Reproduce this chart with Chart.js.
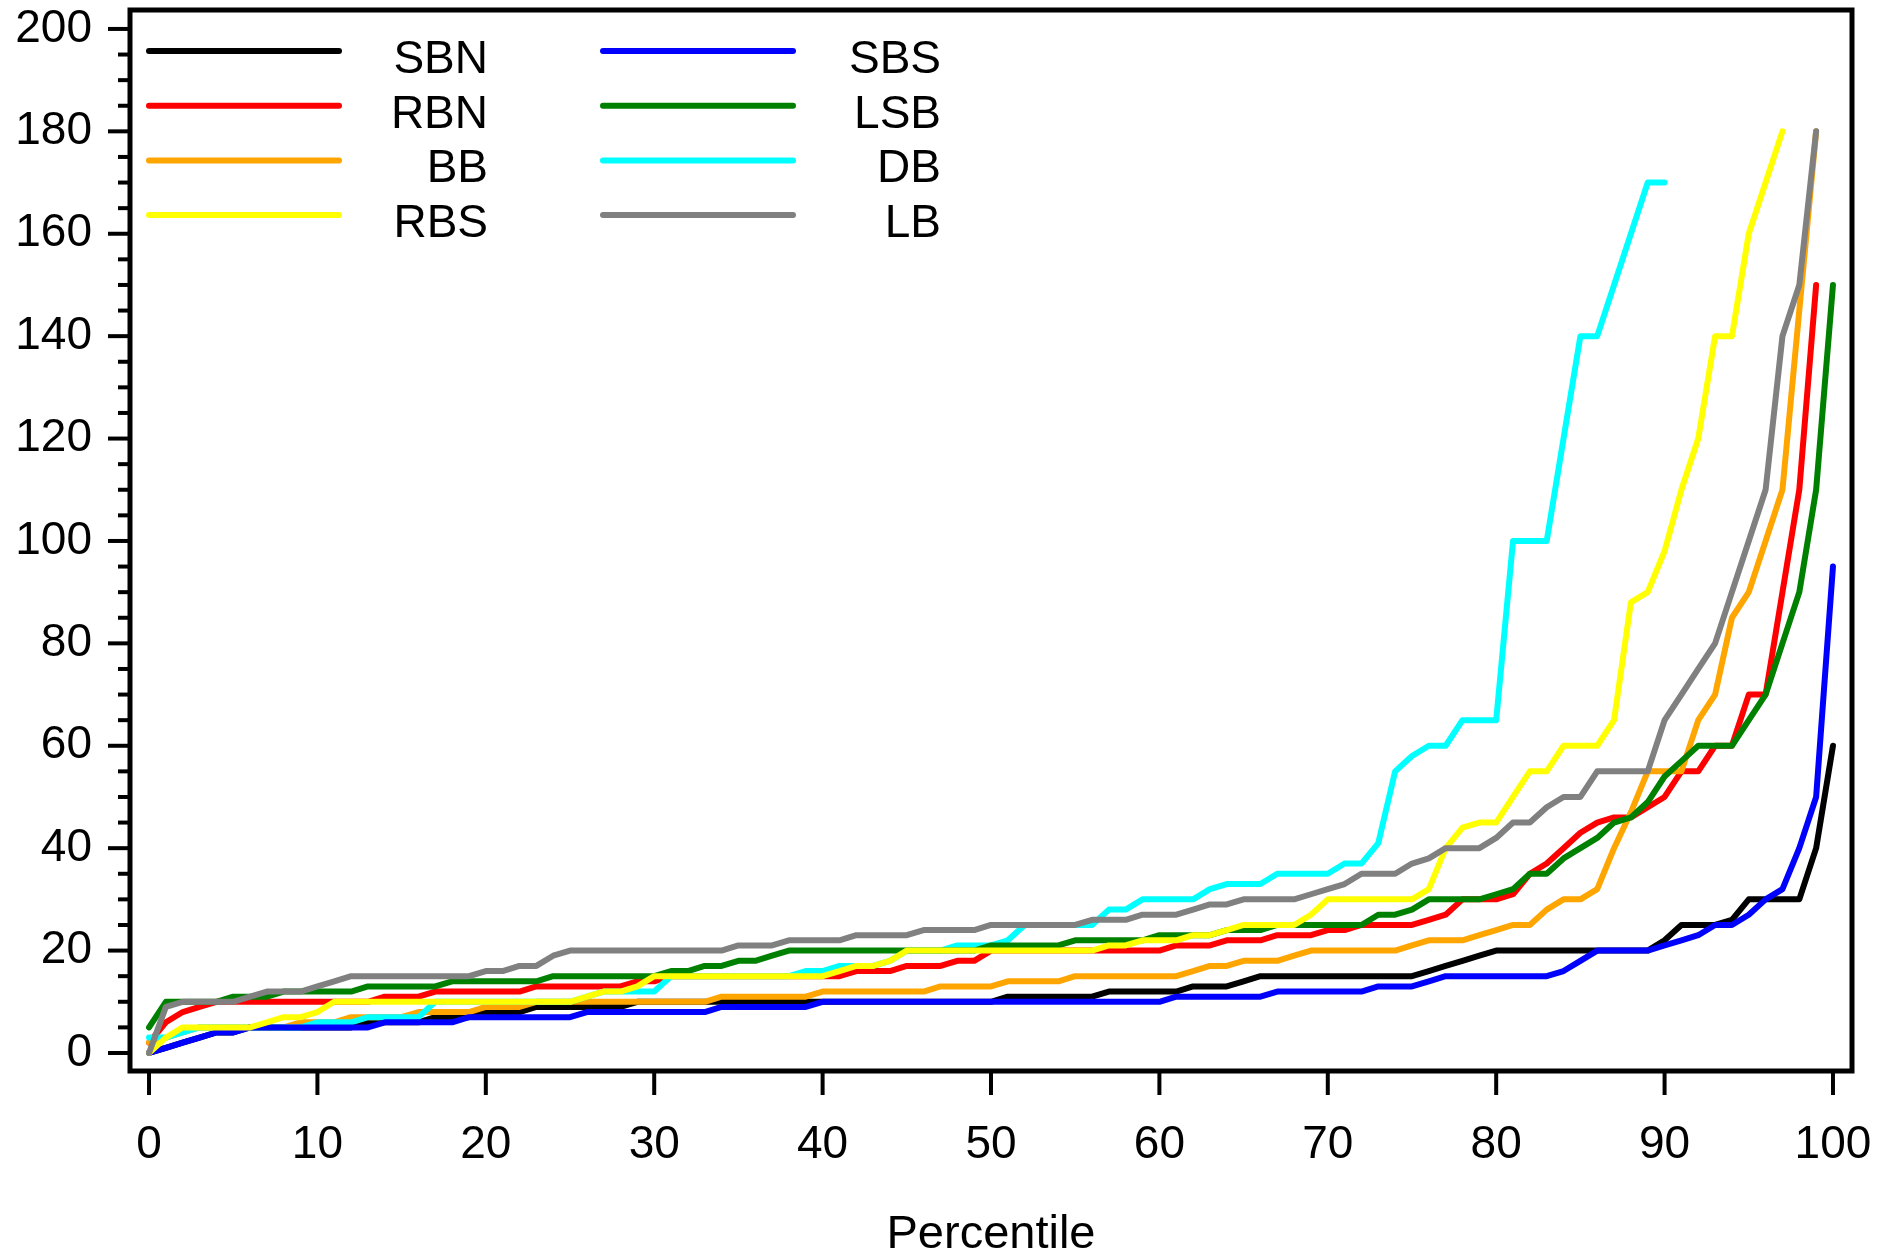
<!DOCTYPE html>
<html>
<head>
<meta charset="utf-8">
<title>Percentile</title>
<script src="https://cdn.jsdelivr.net/npm/chart.js@4"></script>
<style>
  html, body { margin: 0; padding: 0; background: #fff; }
  #wrap { width: 1898px; height: 1256px; position: relative; }
</style>
</head>
<body>
<div id="wrap"><canvas id="pctChart"></canvas></div>
<script>
// x positions: one point per percentile
const percentiles = Array.from({ length: 101 }, (_, i) => i);

const SBN = [0,1,2,3,4,4,5,5,5,5,
  5,5,5,6,6,6,6,7,7,7,
  8,8,8,9,9,9,9,9,9,10,
  10,10,10,10,10,10,10,10,10,10,
  10,10,10,10,10,10,10,10,10,10,
  10,11,11,11,11,11,11,12,12,12,
  12,12,13,13,13,14,15,15,15,15,
  15,15,15,15,15,15,16,17,18,19,
  20,20,20,20,20,20,20,20,20,20,
  22,25,25,25,26,30,30,30,30,40,
  60];

const RBN = [2,6,8,9,10,10,10,10,10,10,
  10,10,10,10,11,11,11,12,12,12,
  12,12,12,13,13,13,13,13,13,14,
  14,15,15,15,15,15,15,15,15,15,
  15,15,16,16,16,17,17,17,18,18,
  20,20,20,20,20,20,20,20,20,20,
  20,21,21,21,22,22,22,23,23,23,
  24,24,25,25,25,25,26,27,30,30,
  30,31,35,37,40,43,45,46,46,48,
  50,55,55,60,60,70,70,90,110,150,
  null];

const BB = [2,3,4,5,5,5,5,5,5,6,
  6,6,7,7,7,7,8,8,8,8,
  9,9,9,10,10,10,10,10,10,10,
  10,10,10,10,11,11,11,11,11,11,
  12,12,12,12,12,12,12,13,13,13,
  13,14,14,14,14,15,15,15,15,15,
  15,15,16,17,17,18,18,18,19,20,
  20,20,20,20,20,21,22,22,22,23,
  24,25,25,28,30,30,32,40,47,55,
  55,55,65,70,85,90,100,110,145,180,
  null];

const RBS = [0,3,5,5,5,5,5,6,7,7,
  8,10,10,10,10,10,10,10,10,10,
  10,10,10,10,10,10,11,12,12,13,
  15,15,15,15,15,15,15,15,15,15,
  15,16,17,17,18,20,20,20,20,20,
  20,20,20,20,20,20,20,21,21,22,
  22,22,23,23,24,25,25,25,25,27,
  30,30,30,30,30,30,32,40,44,45,
  45,50,55,55,60,60,60,65,88,90,
  98,110,120,140,140,160,170,180,null,null,
  null];

const SBS = [0,1,2,3,4,4,5,5,5,5,
  5,5,5,5,6,6,6,6,6,7,
  7,7,7,7,7,7,8,8,8,8,
  8,8,8,8,9,9,9,9,9,9,
  10,10,10,10,10,10,10,10,10,10,
  10,10,10,10,10,10,10,10,10,10,
  10,11,11,11,11,11,11,12,12,12,
  12,12,12,13,13,13,14,15,15,15,
  15,15,15,15,16,18,20,20,20,20,
  21,22,23,25,25,27,30,32,40,50,
  95];

const LSB = [5,10,10,10,10,11,11,11,12,12,
  12,12,12,13,13,13,13,13,14,14,
  14,14,14,14,15,15,15,15,15,15,
  15,16,16,17,17,18,18,19,20,20,
  20,20,20,20,20,20,20,20,20,20,
  21,21,21,21,21,22,22,22,22,22,
  23,23,23,23,24,24,24,25,25,25,
  25,25,25,27,27,28,30,30,30,30,
  31,32,35,35,38,40,42,45,46,49,
  54,57,60,60,60,65,70,80,90,110,
  150];

const DB = [3,3,4,5,5,5,5,5,5,5,
  6,6,6,7,7,7,7,10,10,10,
  10,10,10,10,10,10,11,12,12,12,
  12,15,15,15,15,15,15,15,15,16,
  16,17,17,17,18,20,20,20,21,21,
  21,22,25,25,25,25,25,28,28,30,
  30,30,30,32,33,33,33,35,35,35,
  35,37,37,41,55,58,60,60,65,65,
  65,100,100,100,120,140,140,150,160,170,
  170,null,null,null,null,null,null,null,null,null,
  null];

const LB = [0,9,10,10,10,10,11,12,12,12,
  13,14,15,15,15,15,15,15,15,15,
  16,16,17,17,19,20,20,20,20,20,
  20,20,20,20,20,21,21,21,22,22,
  22,22,23,23,23,23,24,24,24,24,
  25,25,25,25,25,25,26,26,26,27,
  27,27,28,29,29,30,30,30,30,31,
  32,33,35,35,35,37,38,40,40,40,
  42,45,45,48,50,50,55,55,55,55,
  65,70,75,80,90,100,110,140,150,180,
  null];

const xTicks = [0, 10, 20, 30, 40, 50, 60, 70, 80, 90, 100];
const yTicks = [0, 20, 40, 60, 80, 100, 120, 140, 160, 180, 200];

// legend order (two columns of four); layer = stacking, higher is drawn on top
const series = [
  { label: 'SBN', values: SBN, color: '#000000', layer: 1 },
  { label: 'RBN', values: RBN, color: '#ff0000', layer: 2 },
  { label: 'BB',  values: BB,  color: '#ffa500', layer: 3 },
  { label: 'RBS', values: RBS, color: '#ffff00', layer: 7 },
  { label: 'SBS', values: SBS, color: '#0000ff', layer: 5 },
  { label: 'LSB', values: LSB, color: '#008000', layer: 6 },
  { label: 'DB',  values: DB,  color: '#00ffff', layer: 4 },
  { label: 'LB',  values: LB,  color: '#808080', layer: 8 }
];

const FONT = '"Liberation Sans", Arial, sans-serif';
Chart.defaults.font.family = FONT;
Chart.defaults.color = '#000';

// box around the plot plus the tick marks (minor ticks every 5 on y)
const axisFrame = {
  id: 'axisFrame',
  afterDraw(chart) {
    const { ctx, chartArea: a, scales: { x, y } } = chart;
    ctx.save();
    ctx.strokeStyle = '#000';
    ctx.lineCap = 'butt';
    ctx.lineWidth = 4;
    for (let v = 0; v <= 200; v += 5) {
      const py = y.getPixelForValue(v);
      const len = v % 20 === 0 ? 22 : 12;
      ctx.beginPath();
      ctx.moveTo(a.left - len, py);
      ctx.lineTo(a.left, py);
      ctx.stroke();
    }
    xTicks.forEach(v => {
      const px = x.getPixelForValue(v);
      ctx.beginPath();
      ctx.moveTo(px, a.bottom);
      ctx.lineTo(px, a.bottom + 24);
      ctx.stroke();
    });
    ctx.lineWidth = 5;
    ctx.strokeRect(a.left, a.top, a.right - a.left, a.bottom - a.top);
    ctx.restore();
  }
};

// legend inside the plot, labels right aligned after the line sample
const insideLegend = {
  id: 'insideLegend',
  afterDraw(chart) {
    const ctx = chart.ctx;
    ctx.save();
    ctx.font = '46px ' + FONT;
    ctx.textAlign = 'right';
    ctx.textBaseline = 'alphabetic';
    ctx.lineWidth = 6;
    ctx.lineCap = 'round';
    chart.data.datasets.forEach((ds, i) => {
      const col = Math.floor(i / 4), row = i % 4;
      const ly = 51 + row * 54.7;
      const x0 = col ? 603 : 149, x1 = col ? 793 : 339, tx = col ? 941 : 488;
      ctx.strokeStyle = ds.borderColor;
      ctx.beginPath();
      ctx.moveTo(x0, ly);
      ctx.lineTo(x1, ly);
      ctx.stroke();
      ctx.fillStyle = '#000';
      ctx.fillText(ds.label, tx, ly + 22);
    });
    ctx.restore();
  }
};

new Chart(document.getElementById('pctChart'), {
  type: 'line',
  data: {
    datasets: series.map(s => ({
      label: s.label,
      data: percentiles.map((p, i) => ({ x: p, y: s.values[i] })),
      borderColor: s.color,
      backgroundColor: s.color,
      borderWidth: 6,
      borderJoinStyle: 'round',
      borderCapStyle: 'round',
      pointRadius: 0,
      tension: 0,
      fill: false,
      spanGaps: false,
      order: 10 - s.layer
    }))
  },
  options: {
    responsive: true,
    maintainAspectRatio: false,
    animation: false,
    layout: { padding: { left: 0, right: 46, top: 10, bottom: 0 } },
    plugins: {
      legend: { display: false },
      tooltip: { enabled: false }
    },
    scales: {
      x: {
        type: 'linear',
        min: -1.13,
        max: 101.13,
        afterBuildTicks: s => { s.ticks = xTicks.map(v => ({ value: v })); },
        afterFit: s => {
          s.height = 185;
          s.paddingLeft = 0; s.paddingRight = 0;
        },
        grid: { display: false, drawTicks: false },
        border: { display: false },
        ticks: { font: { size: 46 }, padding: 47, maxRotation: 0, autoSkip: false },
        title: {
          display: true,
          text: 'Percentile',
          font: { size: 47, lineHeight: 0.9 },
          padding: 0
        }
      },
      y: {
        type: 'linear',
        min: -3.52,
        max: 203.7,
        afterBuildTicks: s => { s.ticks = yTicks.map(v => ({ value: v })); },
        afterFit: s => {
          s.width = 130;
          s.paddingTop = 0; s.paddingBottom = 0;
        },
        grid: { display: false, drawTicks: false },
        border: { display: false },
        ticks: { font: { size: 46 }, padding: 38, autoSkip: false }
      }
    }
  },
  plugins: [axisFrame, insideLegend]
});
</script>
</body>
</html>
